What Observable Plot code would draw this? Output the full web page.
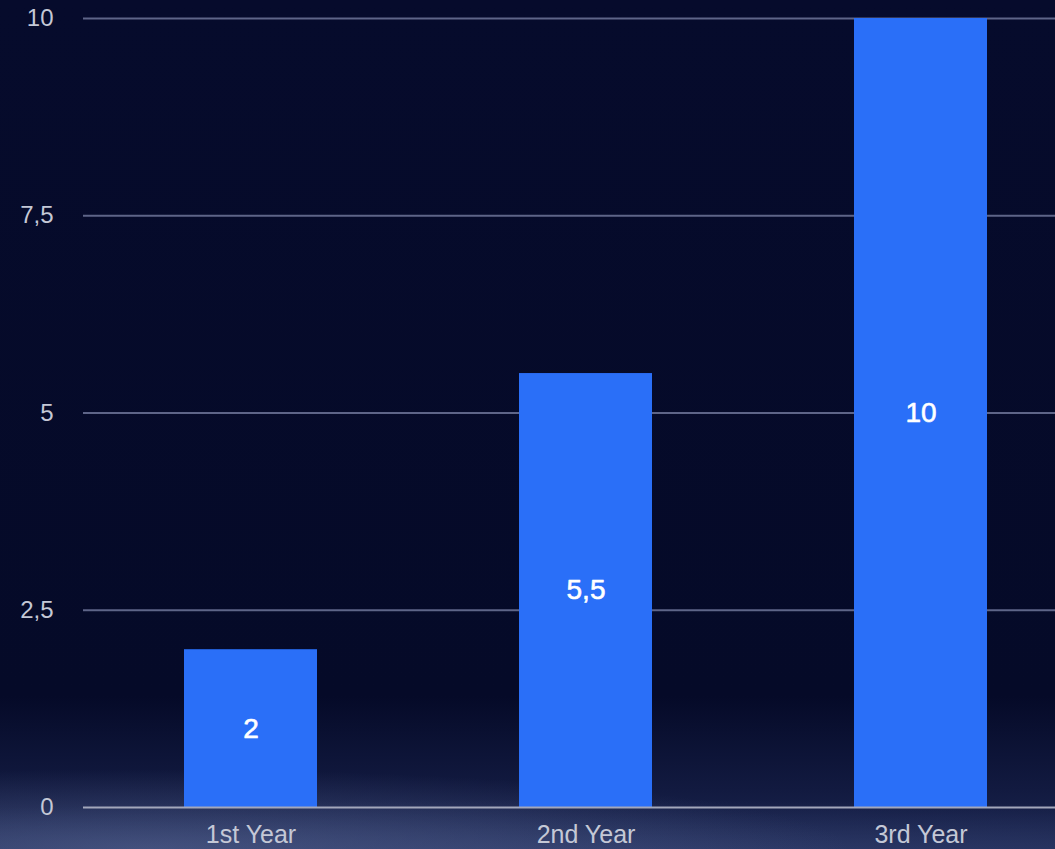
<!DOCTYPE html>
<html><head><meta charset="utf-8">
<script src="https://cdn.jsdelivr.net/npm/d3@7"></script>
<script src="https://cdn.jsdelivr.net/npm/@observablehq/plot@0.6"></script>
<style>
html,body{margin:0;padding:0;}
body{width:1055px;height:849px;overflow:hidden;background:#050a2a;}
#chart{width:1055px;height:849px;background:
 radial-gradient(ellipse 700px 80px at 150px 849px, rgba(95,110,155,0.5), rgba(95,110,155,0) 100%),
 radial-gradient(ellipse 1200px 60px at 600px 860px, rgba(70,85,135,0.45), rgba(70,85,135,0) 100%),
 linear-gradient(to bottom, #060b2c 0%, #050a28 82%, #121a40 93%, #1c2752 100%);}
#chart svg{display:block;}
</style></head><body><div id="chart"></div>
<script>
const categories = ["1st Year", "2nd Year", "3rd Year"];
const values = [2, 5.5, 10];
const yTicks = [0, 2.5, 5, 7.5, 10];

const data = categories.map((c, i) => ({category: c, value: values[i]}));
const fmt = d => String(d).replace(".", ",");

const chart = Plot.plot({
  width: 1055, height: 849,
  marginLeft: 83, marginRight: 0, marginTop: 18, marginBottom: 42,
  style: {background: "transparent", fontFamily: "'Liberation Sans', Arial, Helvetica, sans-serif", overflow: "hidden"},
  x: {domain: categories, range: [82, 1088.5], paddingInner: 0.6036, paddingOuter: 0.3018, label: null},
  y: {domain: [0, 10], label: null},
  marks: [
    Plot.ruleY(yTicks.filter(d => d > 0), {stroke: "#5e6588", strokeWidth: 1.8}),
    Plot.barY(data, {x: "category", y: "value", fill: "#2a6ff8"}),
    Plot.ruleY([0], {stroke: "#a3a7bb", strokeWidth: 2}),
    Plot.text(data, {x: "category", y: d => d.value / 2, text: d => fmt(d.value), fill: "white", stroke: "white", strokeWidth: 0.6, fontSize: 28, fontWeight: 500}),
    Plot.axisY({ticks: yTicks, tickFormat: fmt, tickSize: 0, tickPadding: 30, fontSize: 24, color: "#c4c8d6", label: null}),
    Plot.axisX({tickSize: 0, tickPadding: 18, fontSize: 25, color: "#c4c8d6", label: null})
  ]
});
document.getElementById("chart").appendChild(chart);
</script>
</body></html>
